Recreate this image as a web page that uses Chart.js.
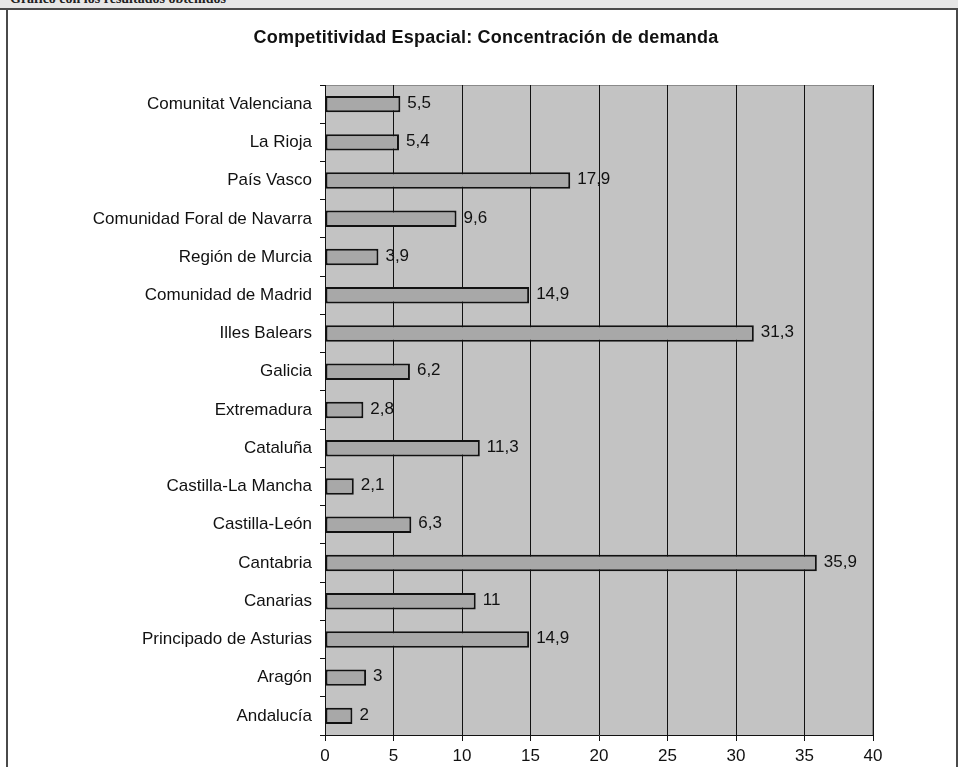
<!DOCTYPE html>
<html>
<head>
<meta charset="utf-8">
<script src="https://cdn.jsdelivr.net/npm/chart.js@4/dist/chart.umd.min.js"></script>
<style>
  html, body { margin: 0; padding: 0; background: #fff; }
  body { width: 958px; height: 767px; position: relative; overflow: hidden; font-family: "Liberation Sans", Arial, sans-serif; }
  #head { position: absolute; left: 0; top: 0; width: 958px; height: 8px; background: #e6e6e6; border-bottom: 2px solid #4a4a4a; overflow: hidden; }
  #head span { position: absolute; left: 10px; top: -9px; font: bold 14px "Liberation Serif", serif; color: #222; }
  #frame { position: absolute; left: 6px; top: 10px; width: 948px; height: 757px; border-left: 2px solid #4a4a4a; border-right: 2px solid #4a4a4a; }
  #wrap { position: absolute; left: 8px; top: 9px; width: 948px; height: 758px; }
</style>
</head>
<body>
<div id="head"><span>Gráfico con los resultados obtenidos</span></div>
<div id="frame"></div>
<div id="wrap"><canvas id="c"></canvas></div>
<script>
const regions = ['Comunitat Valenciana', 'La Rioja', 'País Vasco', 'Comunidad Foral de Navarra',
    'Región de Murcia', 'Comunidad de Madrid', 'Illes Balears', 'Galicia', 'Extremadura',
    'Cataluña', 'Castilla-La Mancha', 'Castilla-León', 'Cantabria', 'Canarias',
    'Principado de Asturias', 'Aragón', 'Andalucía'];
const values = [5.5, 5.4, 17.9, 9.6, 3.9, 14.9, 31.3, 6.2, 2.8, 11.3, 2.1, 6.3, 35.9, 11, 14.9, 3, 2];
const xTicks = [0, 5, 10, 15, 20, 25, 30, 35, 40];
const chartTitle = 'Competitividad Espacial: Concentración de demanda';

const FONT = '"Liberation Sans", Arial, sans-serif';

// gray plot area behind the bars
const plotBg = {
    id: 'plotBg',
    beforeDraw(chart) {
        const a = chart.chartArea, c = chart.ctx;
        c.save();
        c.fillStyle = '#c3c3c3';
        c.fillRect(a.left, a.top, a.right - a.left, a.bottom - a.top);
        c.strokeStyle = '#8a8a8a';
        c.lineWidth = 1;
        c.beginPath();
        c.moveTo(a.left, a.top + 0.5);
        c.lineTo(a.right - 0.5, a.top + 0.5);
        c.lineTo(a.right - 0.5, a.bottom);
        c.stroke();
        c.restore();
    }
};

// title over the whole frame (not just the plot)
const frameTitle = {
    id: 'frameTitle',
    afterDraw(chart) {
        const c = chart.ctx;
        c.save();
        c.font = 'bold 18px ' + FONT;
        c.fillStyle = '#111';
        c.textAlign = 'center';
        c.textBaseline = 'middle';
        c.letterSpacing = '0.2px';
        c.fillText(chartTitle, chart.width / 2 + 4, 29);
        c.restore();
    }
};

// value labels to the right of each bar
const valueLabels = {
    id: 'valueLabels',
    afterDatasetsDraw(chart) {
        const c = chart.ctx;
        const meta = chart.getDatasetMeta(0);
        c.save();
        c.font = '17px ' + FONT;
        c.fillStyle = '#111';
        c.textBaseline = 'middle';
        meta.data.forEach(function(bar, i) {
            c.fillText(String(values[i]).replace('.', ','), bar.x + 7, bar.y - 1);
        });
        c.restore();
    }
};

new Chart(document.getElementById('c'), {
    type: 'bar',
    data: {
        labels: regions,
        datasets: [{
            data: values,
            backgroundColor: '#a8a8a8',
            borderColor: '#111',
            borderWidth: 2,
            borderSkipped: false,
            categoryPercentage: 1,
            barPercentage: 0.43
        }]
    },
    options: {
        indexAxis: 'y',
        responsive: true,
        maintainAspectRatio: false,
        animation: false,
        layout: { padding: { left: 0, right: 83, top: 76, bottom: 0 } },
        scales: {
            x: {
                min: 0,
                max: 40,
                afterBuildTicks(scale) { scale.ticks = xTicks.map(v => ({ value: v })); },
                grid: { color: '#111', lineWidth: 1, tickLength: 6, drawTicks: true },
                border: { color: '#111', width: 1 },
                ticks: { color: '#111', padding: 5, font: { family: FONT, size: 17 } },
                afterFit(scale) { scale.height = 32; }
            },
            y: {
                grid: { offset: true, drawOnChartArea: false, color: '#111', tickLength: 5 },
                border: { color: '#111', width: 1 },
                ticks: { color: '#111', padding: 8, autoSkip: false, font: { family: FONT, size: 17 } },
                afterFit(scale) { scale.width = 317; }
            }
        },
        plugins: {
            legend: { display: false },
            tooltip: { enabled: false },
            title: { display: false }
        }
    },
    plugins: [plotBg, valueLabels, frameTitle]
});
</script>
</body>
</html>
